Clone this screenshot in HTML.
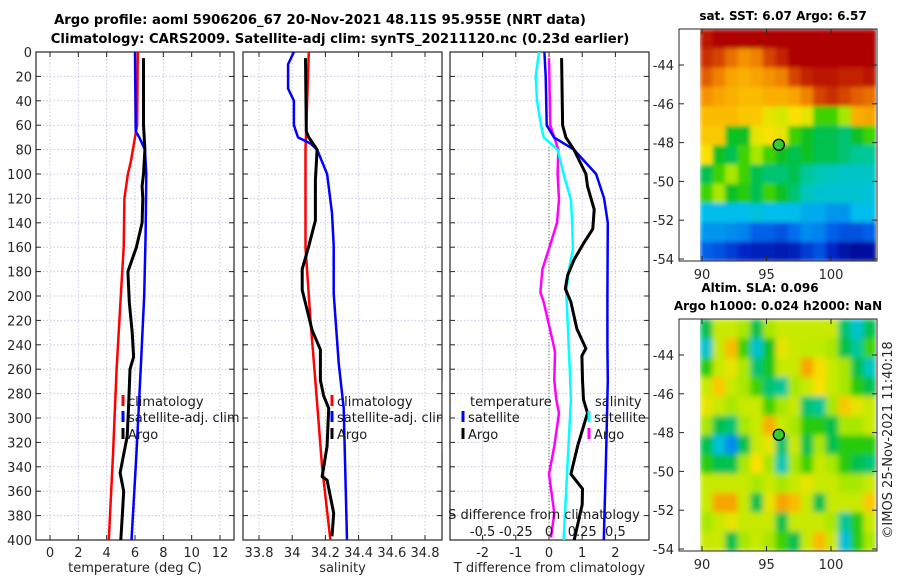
<!DOCTYPE html>
<html><head><meta charset="utf-8"><style>
html,body{margin:0;padding:0;background:#fff;}
svg{display:block;font-family:"DejaVu Sans","Liberation Sans",sans-serif;}
</style></head><body>
<svg id="fig" width="900" height="580" viewBox="0 0 900 580">
<defs>
<filter id="blur" x="0" y="0" width="1" height="1"><feGaussianBlur stdDeviation="3" edgeMode="duplicate"/></filter>
<filter id="blur2" x="0" y="0" width="1" height="1"><feGaussianBlur stdDeviation="2" edgeMode="duplicate"/></filter>
<clipPath id="clipSST"><rect x="700" y="29" width="176" height="232"/></clipPath>
<clipPath id="clipSLA"><rect x="700" y="319" width="176" height="232"/></clipPath>
</defs>
<text x="320" y="24" text-anchor="middle" font-size="13.2" font-weight="bold">Argo profile: aoml 5906206_67 20-Nov-2021 48.11S 95.955E (NRT data)</text>
<text x="340" y="43" text-anchor="middle" font-size="13.2" font-weight="bold">Climatology: CARS2009. Satellite-adj clim: synTS_20211120.nc (0.23d earlier)</text>
<text x="783" y="20" text-anchor="middle" font-size="12" font-weight="bold">sat. SST: 6.07 Argo: 6.57</text>
<text x="760" y="292" text-anchor="middle" font-size="12" font-weight="bold">Altim. SLA: 0.096</text>
<text x="778" y="310" text-anchor="middle" font-size="12" font-weight="bold">Argo h1000: 0.024 h2000: NaN</text>
<text transform="translate(892,440) rotate(-90)" text-anchor="middle" font-size="13" fill="#262626">©IMOS 25-Nov-2021 11:40:18</text>
</svg>
<script>
// ---------- data ----------
const depthTicks = [0,20,40,60,80,100,120,140,160,180,200,220,240,260,280,300,320,340,360,380,400];
const tTicks = [0,2,4,6,8,10,12];
const sTicks = [33.8,34,34.2,34.4,34.6,34.8];
const dTTicks = [-2,-1,0,1,2];
const dSTickLabels = ["-0.5","-0.25","0","0.25","0.5"];
const dSTicks = [-0.5,-0.25,0,0.25,0.5];

const climTDepth = [0,60,70,80,90,100,120,160,200,260,330,400];
const climT = [6.2,6.15,6.0,5.85,5.7,5.5,5.25,5.2,5.0,4.7,4.45,4.15];
const satTDepth = [0,65,70,75,80,100,150,200,260,330,400];
const satT = [6.0,6.05,6.3,6.5,6.7,6.8,6.75,6.65,6.4,6.1,5.75];
const argoTDepth = [5,60,80,100,110,120,140,160,180,205,230,250,260,290,315,345,360,380,400];
const argoT = [6.6,6.6,6.7,6.6,6.5,6.55,6.5,6.1,5.5,5.6,5.8,5.9,5.65,5.55,5.45,4.95,5.2,5.1,5.0];

const climSDepth = [0,80,160,220,270,340,400];
const climS = [34.1,34.08,34.08,34.11,34.14,34.18,34.23];
const satSDepth = [0,10,30,40,60,70,75,80,100,132,159,198,255,292,400];
const satS = [34.01,33.975,33.975,34.01,34.01,34.035,34.11,34.15,34.21,34.24,34.25,34.25,34.28,34.31,34.33];
const argoSDepth = [5,65,70,80,105,138,159,178,195,206,228,244,252,269,282,292,323,348,351,378,397];
const argoS = [34.08,34.085,34.1,34.15,34.14,34.14,34.1,34.06,34.06,34.08,34.12,34.17,34.17,34.17,34.19,34.22,34.21,34.18,34.21,34.25,34.24];

const dTSatDepth = [0,20,60,70,80,100,120,140,200,240,269,330,400];
const dTSat = [-0.14,-0.1,-0.07,0.15,0.75,1.42,1.66,1.77,1.76,1.76,1.77,1.72,1.65];
const dTArgoDepth = [5,60,70,80,100,110,129,145,156,170,183,194,205,227,243,249,269,285,296,323,346,358,371,400];
const dTArgo = [0.38,0.41,0.51,0.75,1.11,1.16,1.36,1.32,1.06,0.76,0.56,0.49,0.66,0.84,1.11,0.99,1.01,1.04,1.16,0.86,0.66,1.01,1.0,0.76];
const dSSatDepth = [0,20,40,60,70,80,100,121,140,162,178,197,244,269,285,400];
const dSSat = [-0.075,-0.1,-0.09,-0.06,-0.04,0.065,0.11,0.165,0.175,0.18,0.15,0.13,0.15,0.16,0.165,0.11];
const dSArgoDepth = [5,60,80,100,121,140,156,178,197,205,238,246,269,285,296,323,346,378,398];
const dSArgo = [0.0,0.01,0.07,0.065,0.075,0.06,0.015,-0.05,-0.065,-0.04,0.03,0.045,0.04,0.055,0.075,0.04,0.0,0.04,0.015];

const lonTicks = [90,95,100];
const latTicks = [-44,-46,-48,-50,-52,-54];
const argoLon = 95.955, argoLat = -48.11;
const sstGrid = [
[0.92,0.95,0.95,0.95,0.95,0.95,0.95,0.95,0.95,0.95,0.95,0.95,0.95,0.95],
[0.88,0.85,0.8,0.75,0.78,0.85,0.9,0.95,0.95,0.95,0.95,0.95,0.95,0.95],
[0.82,0.78,0.72,0.7,0.72,0.75,0.78,0.85,0.9,0.92,0.92,0.9,0.9,0.92],
[0.75,0.72,0.7,0.68,0.68,0.7,0.7,0.72,0.78,0.85,0.88,0.85,0.82,0.8],
[0.68,0.68,0.68,0.66,0.66,0.6,0.58,0.62,0.6,0.5,0.5,0.55,0.7,0.72],
[0.66,0.66,0.45,0.45,0.6,0.62,0.6,0.5,0.45,0.42,0.42,0.4,0.45,0.5],
[0.62,0.45,0.42,0.5,0.55,0.5,0.45,0.42,0.45,0.42,0.42,0.4,0.38,0.38],
[0.42,0.5,0.55,0.5,0.42,0.4,0.4,0.42,0.38,0.36,0.35,0.34,0.34,0.34],
[0.5,0.55,0.45,0.48,0.42,0.5,0.45,0.4,0.35,0.33,0.33,0.33,0.33,0.32],
[0.3,0.3,0.3,0.3,0.32,0.3,0.3,0.3,0.28,0.28,0.26,0.26,0.3,0.3],
[0.26,0.26,0.25,0.24,0.2,0.2,0.18,0.22,0.25,0.24,0.2,0.18,0.18,0.2],
[0.2,0.18,0.15,0.12,0.1,0.1,0.08,0.1,0.15,0.18,0.12,0.06,0.05,0.05]];
const slaGrid = [
[0.42,0.57,0.57,0.55,0.42,0.55,0.57,0.57,0.57,0.57,0.57,0.4,0.33,0.42],
[0.33,0.57,0.68,0.5,0.33,0.45,0.6,0.57,0.56,0.56,0.55,0.42,0.38,0.5],
[0.48,0.57,0.6,0.55,0.4,0.46,0.57,0.57,0.72,0.63,0.57,0.55,0.42,0.35],
[0.57,0.66,0.57,0.55,0.5,0.4,0.38,0.55,0.57,0.62,0.57,0.55,0.48,0.42],
[0.6,0.57,0.55,0.57,0.57,0.5,0.55,0.57,0.4,0.38,0.55,0.66,0.6,0.57],
[0.55,0.42,0.4,0.55,0.57,0.7,0.57,0.55,0.48,0.48,0.42,0.55,0.55,0.57],
[0.42,0.32,0.25,0.42,0.57,0.6,0.4,0.57,0.42,0.55,0.42,0.48,0.48,0.48],
[0.48,0.42,0.42,0.55,0.62,0.55,0.36,0.55,0.5,0.57,0.55,0.48,0.42,0.4],
[0.57,0.57,0.57,0.57,0.55,0.57,0.55,0.57,0.6,0.57,0.57,0.55,0.55,0.57],
[0.57,0.72,0.72,0.57,0.42,0.6,0.72,0.68,0.57,0.42,0.57,0.57,0.57,0.66],
[0.55,0.57,0.6,0.57,0.57,0.57,0.42,0.57,0.57,0.57,0.55,0.38,0.48,0.57],
[0.57,0.57,0.42,0.55,0.57,0.55,0.5,0.42,0.57,0.68,0.57,0.32,0.48,0.55]];

// ---------- helpers ----------
const NS = "http://www.w3.org/2000/svg";
const svg = document.getElementById('fig');
function mk(tag, attrs, parent){ const e=document.createElementNS(NS,tag); for(const k in attrs) e.setAttribute(k,attrs[k]); (parent||svg).appendChild(e); return e; }
const Y0=52, Y1=540;
const yD = d => Y0 + (d/400)*(Y1-Y0);
function lin(d0,d1,r0,r1){ return v => r0 + (v-d0)/(d1-d0)*(r1-r0); }

function panel(name, x0, x1, xs, ticks, labels, xlabel, showY){
  const g = mk('g',{});
  
  
  ticks.forEach(t=>{ const x=xs(t); mk('line',{x1:x,x2:x,y1:Y0,y2:Y1,stroke:'#c9c9e6','stroke-width':1,'stroke-dasharray':'1.5,2'},g); });
  depthTicks.forEach(d=>{ const y=yD(d); mk('line',{x1:x0,x2:x1,y1:y,y2:y,stroke:'#c9c9e6','stroke-width':1,'stroke-dasharray':'1.5,2'},g); });
  depthTicks.forEach(d=>{ const y=yD(d); mk('line',{x1:x0,x2:x0+5,y1:y,y2:y,stroke:'#262626'},g); mk('line',{x1:x1,x2:x1-5,y1:y,y2:y,stroke:'#262626'},g);
    if(showY){ const t=mk('text',{x:x0-4,y:y+5,'text-anchor':'end','font-size':13,fill:'#262626'},g); t.textContent=d;   } });
  ticks.forEach((tk,i)=>{ const x=xs(tk); mk('line',{x1:x,x2:x,y1:Y1,y2:Y1-5,stroke:'#262626'},g); mk('line',{x1:x,x2:x,y1:Y0,y2:Y0+5,stroke:'#262626'},g);
    if(labels){ const t=mk('text',{x:x,y:557,'text-anchor':'middle','font-size':13,fill:'#262626'},g); t.textContent=labels[i];   } });
  mk('rect',{x:x0,y:Y0,width:x1-x0,height:Y1-Y0,fill:'none',stroke:'#262626','stroke-width':1.2},g);
  const xl=mk('text',{x:(x0+x1)/2,y:572,'text-anchor':'middle','font-size':13,fill:'#262626'},g); xl.textContent=xlabel;
   
  return g;
}
function profile(g, depths, vals, xs, color, w, name){
  const pts = depths.map((d,i)=> xs(vals[i]).toFixed(1)+','+yD(d).toFixed(1)).join(' ');
  const p = mk('polyline',{points:pts,fill:'none',stroke:color,'stroke-width':w,'stroke-linejoin':'round'},g);
  
  
}
function legendEntry(g, x, y, color, label, name){
  const e = mk('g',{},g);
  
  
  mk('rect',{x:x-1.5,y:y-6,width:3,height:11,fill:color},e);
  const t=mk('text',{x:x+5,y:y+5,'font-size':13,fill:'#1a1a1a'},e); t.textContent=label;
}

// ---------- panel 1 temperature ----------
const xT = lin(0,12,50,220);
const p1 = panel('temperature-panel',36,234,xT,tTicks,tTicks.map(String),'temperature (deg C)',true);
profile(p1, climTDepth, climT, xT, '#ff0000', 2.5, 'temp-climatology-line');
profile(p1, satTDepth, satT, xT, '#0000ff', 2.5, 'temp-satellite-line');
profile(p1, argoTDepth, argoT, xT, '#000000', 3, 'temp-argo-line');
legendEntry(p1,123,401,'#ff0000','climatology','legend-climatology');
legendEntry(p1,123,417,'#0000ff','satellite-adj. clim','legend-satellite');
legendEntry(p1,123,434,'#000000','Argo','legend-argo');

// ---------- panel 2 salinity ----------
const xS = lin(33.8,34.8,259,425);
const p2 = panel('salinity-panel',243,442,xS,sTicks,sTicks.map(String),'salinity',false);
profile(p2, climSDepth, climS, xS, '#ff0000', 2.5, 'sal-climatology-line');
profile(p2, satSDepth, satS, xS, '#0000ff', 2.5, 'sal-satellite-line');
profile(p2, argoSDepth, argoS, xS, '#000000', 3, 'sal-argo-line');
legendEntry(p2,332,401,'#ff0000','climatology','legend-climatology');
legendEntry(p2,332,417,'#0000ff','satellite-adj. clim','legend-satellite');
legendEntry(p2,332,434,'#000000','Argo','legend-argo');
mk('rect',{x:442.6,y:380,width:7,height:70,fill:'#fff'});

// ---------- panel 3 differences ----------
const xDT = lin(-2,2,482.6,615.4);
const xDS = lin(-0.5,0.5,482.6,615.4);
const p3 = panel('difference-panel',450,649,xDT,dTTicks,dTTicks.map(String),'T difference from climatology',false);
const zl = mk('line',{x1:xDT(0),x2:xDT(0),y1:yD(78),y2:Y1,stroke:'#556b2f','stroke-width':1,'stroke-dasharray':'1,2'},p3);
 
profile(p3, dSArgoDepth, dSArgo, xDS, '#ff00ff', 2.5, 'sdiff-argo-line');
profile(p3, dSSatDepth, dSSat, xDS, '#00ffff', 2.5, 'sdiff-satellite-line');
profile(p3, dTSatDepth, dTSat, xDT, '#0000ff', 2.5, 'tdiff-satellite-line');
profile(p3, dTArgoDepth, dTArgo, xDT, '#000000', 3, 'tdiff-argo-line');
const lt=mk('text',{x:470,y:406,'font-size':13,fill:'#1a1a1a'},p3); lt.textContent='temperature';
 
legendEntry(p3,463,417,'#0000ff','satellite','legend-t-satellite');
legendEntry(p3,463,434,'#000000','Argo','legend-t-argo');
const ls=mk('text',{x:595,y:406,'font-size':13,fill:'#1a1a1a'},p3); ls.textContent='salinity';
 
legendEntry(p3,589,417,'#00ffff','satellite','legend-s-satellite');
legendEntry(p3,589,434,'#ff00ff','Argo','legend-s-argo');
const st=mk('text',{x:544,y:519,'text-anchor':'middle','font-size':13,fill:'#1a1a1a'},p3); st.textContent='S difference from climatology';
 
dSTicks.forEach((v,i)=>{ const t=mk('text',{x:xDS(v),y:536,'text-anchor':'middle','font-size':13,fill:'#1a1a1a'},p3); t.textContent=dSTickLabels[i];
    });

// ---------- maps ----------
const cmapStops = [[0,[0,0,130]],[0.12,[0,40,200]],[0.22,[0,110,240]],[0.3,[0,190,235]],[0.37,[0,200,170]],[0.44,[0,190,40]],[0.5,[60,210,0]],[0.56,[190,235,0]],[0.62,[250,225,0]],[0.7,[250,175,0]],[0.78,[240,130,0]],[0.86,[210,60,0]],[0.95,[175,0,0]],[1,[160,0,0]]];
function cmap(v){
  v=Math.max(0,Math.min(1,v));
  for(let i=1;i<cmapStops.length;i++){
    const [a,ca]=cmapStops[i-1],[b,cb]=cmapStops[i];
    if(v<=b){ const f=(v-a)/(b-a); return 'rgb('+ca.map((c,k)=>Math.round(c+(cb[k]-c)*f)).join(',')+')'; }
  }
  return 'rgb(160,0,0)';
}
function map(name, top, grid, clipId, blurId){
  const g = mk('g',{});
  
  
  const xL = lin(90,100,702,831);
  const yL = lin(-44,-54,top+36,top+230);
  const cells = mk('g',{'clip-path':'url(#'+clipId+')'},g);
  const inner = mk('g', {filter:'url(#'+blurId+')'}, cells);
  const rows=grid.length, cols=grid[0].length, cw=176/cols, ch=232/rows;
  grid.forEach((row,r)=>row.forEach((v,c)=>{
    const cell = mk('rect',{x:(700+c*cw).toFixed(2),y:(top+r*ch).toFixed(2),width:(cw+0.6).toFixed(2),height:(ch+0.6).toFixed(2),fill:cmap(v)},inner);
    
    
  }));
  mk('rect',{x:679,y:top,width:198,height:232,fill:'none',stroke:'#262626','stroke-width':1},g);
  latTicks.forEach(l=>{ const y=yL(l); mk('line',{x1:679,x2:684,y1:y,y2:y,stroke:'#262626'},g); mk('line',{x1:877,x2:872,y1:y,y2:y,stroke:'#262626'},g);
    const t=mk('text',{x:674,y:y+5,'text-anchor':'end','font-size':13,fill:'#262626'},g); t.textContent=l;
      });
  lonTicks.forEach(l=>{ const x=xL(l); mk('line',{x1:x,x2:x,y1:top+232,y2:top+227,stroke:'#262626'},g); mk('line',{x1:x,x2:x,y1:top,y2:top+5,stroke:'#262626'},g);
    const t=mk('text',{x:x,y:top+250,'text-anchor':'middle','font-size':13,fill:'#262626'},g); t.textContent=l;
      });
  const dot = mk('circle',{cx:xL(argoLon),cy:yL(argoLat),r:5.5,fill:'#33cc33',stroke:'#000','stroke-width':1.3},g);
  
  
}
map('sst-map',29,sstGrid,'clipSST','blur2');
map('sla-map',319,slaGrid,'clipSLA','blur');
</script>
</body></html>
